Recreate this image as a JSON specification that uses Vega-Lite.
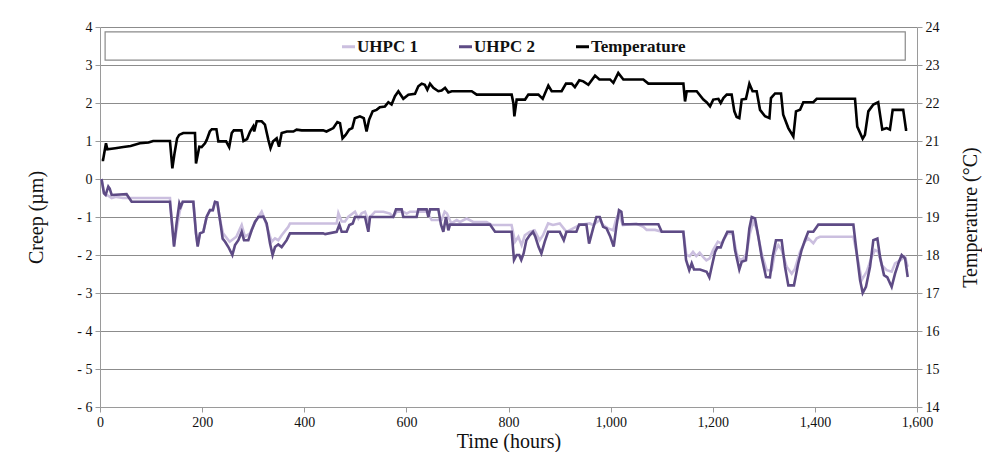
{
  "$schema": "https://vega.github.io/schema/vega-lite/v6.json",
  "width": 817,
  "height": 380,
  "autosize": {"type": "none"},
  "padding": {"left": 100, "top": 27, "right": 65, "bottom": 45},
  "background": "white",
  "config": {
    "view": {"stroke": null},
    "font": "Liberation Serif",
    "axis": {
      "labelFont": "Liberation Serif",
      "labelFontSize": 14,
      "labelColor": "#111111",
      "labelFlush": false,
      "titleFont": "Liberation Serif",
      "titleFontSize": 20,
      "titleFontWeight": "normal",
      "titleColor": "#111111",
      "domainColor": "#9a9a9a",
      "tickColor": "#9a9a9a",
      "tickSize": 5,
      "labelPadding": 3
    }
  },
  "datasets": {
    "frame": [{"x1": 10, "x2": 1577, "y1": 3.13, "y2": 3.87}],
    "creep": [
      {"hours":3,"series":"UHPC 1","value":0},{"hours":7.8,"series":"UHPC 1","value":-0.35},{"hours":11,"series":"UHPC 1","value":-0.42},{"hours":14,"series":"UHPC 1","value":-0.42},{"hours":22.8,"series":"UHPC 1","value":-0.5},{"hours":32,"series":"UHPC 1","value":-0.47},{"hours":45,"series":"UHPC 1","value":-0.5},{"hours":137,"series":"UHPC 1","value":-0.5},{"hours":140.4,"series":"UHPC 1","value":-1.08},{"hours":145,"series":"UHPC 1","value":-1.74},{"hours":151,"series":"UHPC 1","value":-1.25},{"hours":156,"series":"UHPC 1","value":-0.86},{"hours":162,"series":"UHPC 1","value":-0.6},{"hours":182.8,"series":"UHPC 1","value":-0.6},{"hours":188,"series":"UHPC 1","value":-1.43},{"hours":191.3,"series":"UHPC 1","value":-1.74},{"hours":195.8,"series":"UHPC 1","value":-1.43},{"hours":202.4,"series":"UHPC 1","value":-1.39},{"hours":208.9,"series":"UHPC 1","value":-0.99},{"hours":215.4,"series":"UHPC 1","value":-0.82},{"hours":221,"series":"UHPC 1","value":-0.82},{"hours":225.2,"series":"UHPC 1","value":-0.6},{"hours":229.8,"series":"UHPC 1","value":-0.62},{"hours":235,"series":"UHPC 1","value":-1.08},{"hours":241,"series":"UHPC 1","value":-1.43},{"hours":254,"series":"UHPC 1","value":-1.65},{"hours":267,"series":"UHPC 1","value":-1.52},{"hours":277.5,"series":"UHPC 1","value":-1.21},{"hours":283.8,"series":"UHPC 1","value":-1.52},{"hours":293.7,"series":"UHPC 1","value":-1.43},{"hours":303.6,"series":"UHPC 1","value":-1.13},{"hours":316.6,"series":"UHPC 1","value":-0.86},{"hours":323,"series":"UHPC 1","value":-1.08},{"hours":336,"series":"UHPC 1","value":-1.65},{"hours":342.7,"series":"UHPC 1","value":-1.56},{"hours":349.2,"series":"UHPC 1","value":-1.61},{"hours":355.8,"series":"UHPC 1","value":-1.48},{"hours":368.8,"series":"UHPC 1","value":-1.26},{"hours":372,"series":"UHPC 1","value":-1.17},{"hours":463.5,"series":"UHPC 1","value":-1.17},{"hours":466.8,"series":"UHPC 1","value":-0.9},{"hours":473.3,"series":"UHPC 1","value":-1.12},{"hours":479.8,"series":"UHPC 1","value":-1.12},{"hours":486.4,"series":"UHPC 1","value":-0.99},{"hours":499.4,"series":"UHPC 1","value":-0.86},{"hours":506,"series":"UHPC 1","value":-1.04},{"hours":512.4,"series":"UHPC 1","value":-0.9},{"hours":519,"series":"UHPC 1","value":-0.86},{"hours":525.5,"series":"UHPC 1","value":-1.1},{"hours":529,"series":"UHPC 1","value":-1.0},{"hours":538.6,"series":"UHPC 1","value":-0.86},{"hours":555,"series":"UHPC 1","value":-0.86},{"hours":568,"series":"UHPC 1","value":-0.91},{"hours":574.4,"series":"UHPC 1","value":-1.0},{"hours":581,"series":"UHPC 1","value":-0.86},{"hours":594,"series":"UHPC 1","value":-0.86},{"hours":600.5,"series":"UHPC 1","value":-0.91},{"hours":607,"series":"UHPC 1","value":-0.86},{"hours":640,"series":"UHPC 1","value":-0.86},{"hours":649.5,"series":"UHPC 1","value":-1.08},{"hours":669,"series":"UHPC 1","value":-1.08},{"hours":675,"series":"UHPC 1","value":-0.86},{"hours":679.5,"series":"UHPC 1","value":-0.91},{"hours":688,"series":"UHPC 1","value":-1.17},{"hours":698.5,"series":"UHPC 1","value":-1.08},{"hours":705,"series":"UHPC 1","value":-1.13},{"hours":718,"series":"UHPC 1","value":-1.04},{"hours":731,"series":"UHPC 1","value":-1.13},{"hours":757,"series":"UHPC 1","value":-1.13},{"hours":767,"series":"UHPC 1","value":-1.21},{"hours":806,"series":"UHPC 1","value":-1.21},{"hours":812.8,"series":"UHPC 1","value":-1.65},{"hours":819.3,"series":"UHPC 1","value":-1.52},{"hours":825.7,"series":"UHPC 1","value":-1.74},{"hours":832,"series":"UHPC 1","value":-1.48},{"hours":841.4,"series":"UHPC 1","value":-1.39},{"hours":851,"series":"UHPC 1","value":-1.35},{"hours":861,"series":"UHPC 1","value":-1.61},{"hours":867.6,"series":"UHPC 1","value":-1.48},{"hours":877.6,"series":"UHPC 1","value":-1.17},{"hours":887,"series":"UHPC 1","value":-1.21},{"hours":900.4,"series":"UHPC 1","value":-1.17},{"hours":913.5,"series":"UHPC 1","value":-1.39},{"hours":926.5,"series":"UHPC 1","value":-1.3},{"hours":939.6,"series":"UHPC 1","value":-1.21},{"hours":959,"series":"UHPC 1","value":-1.17},{"hours":965.7,"series":"UHPC 1","value":-1.21},{"hours":978.7,"series":"UHPC 1","value":-1.08},{"hours":985.3,"series":"UHPC 1","value":-1.21},{"hours":995,"series":"UHPC 1","value":-1.3},{"hours":1005,"series":"UHPC 1","value":-1.35},{"hours":1011.2,"series":"UHPC 1","value":-1.04},{"hours":1016,"series":"UHPC 1","value":-0.91},{"hours":1024,"series":"UHPC 1","value":-1.21},{"hours":1050,"series":"UHPC 1","value":-1.17},{"hours":1064,"series":"UHPC 1","value":-1.26},{"hours":1070.6,"series":"UHPC 1","value":-1.34},{"hours":1087,"series":"UHPC 1","value":-1.34},{"hours":1100,"series":"UHPC 1","value":-1.39},{"hours":1142.4,"series":"UHPC 1","value":-1.39},{"hours":1148.3,"series":"UHPC 1","value":-2.0},{"hours":1154.8,"series":"UHPC 1","value":-2.03},{"hours":1161.3,"series":"UHPC 1","value":-1.92},{"hours":1167.8,"series":"UHPC 1","value":-2.03},{"hours":1174.4,"series":"UHPC 1","value":-1.94},{"hours":1181,"series":"UHPC 1","value":-2.05},{"hours":1187.5,"series":"UHPC 1","value":-2.14},{"hours":1194,"series":"UHPC 1","value":-2.09},{"hours":1200.5,"series":"UHPC 1","value":-1.87},{"hours":1210,"series":"UHPC 1","value":-1.65},{"hours":1216.9,"series":"UHPC 1","value":-1.7},{"hours":1228.6,"series":"UHPC 1","value":-1.43},{"hours":1239,"series":"UHPC 1","value":-1.43},{"hours":1246.8,"series":"UHPC 1","value":-1.96},{"hours":1253.3,"series":"UHPC 1","value":-2.14},{"hours":1259.8,"series":"UHPC 1","value":-2.09},{"hours":1266.3,"series":"UHPC 1","value":-1.96},{"hours":1272.8,"series":"UHPC 1","value":-1.43},{"hours":1279.4,"series":"UHPC 1","value":-1.12},{"hours":1285.9,"series":"UHPC 1","value":-1.3},{"hours":1295.8,"series":"UHPC 1","value":-1.96},{"hours":1305.6,"series":"UHPC 1","value":-2.4},{"hours":1315.4,"series":"UHPC 1","value":-2.4},{"hours":1321.9,"series":"UHPC 1","value":-1.92},{"hours":1328.5,"series":"UHPC 1","value":-1.74},{"hours":1335,"series":"UHPC 1","value":-1.87},{"hours":1344.8,"series":"UHPC 1","value":-2.31},{"hours":1354.6,"series":"UHPC 1","value":-2.49},{"hours":1361,"series":"UHPC 1","value":-2.36},{"hours":1370.8,"series":"UHPC 1","value":-1.92},{"hours":1380.6,"series":"UHPC 1","value":-1.65},{"hours":1387,"series":"UHPC 1","value":-1.56},{"hours":1397,"series":"UHPC 1","value":-1.69},{"hours":1403.6,"series":"UHPC 1","value":-1.56},{"hours":1410,"series":"UHPC 1","value":-1.52},{"hours":1475.4,"series":"UHPC 1","value":-1.52},{"hours":1482,"series":"UHPC 1","value":-1.96},{"hours":1491.7,"series":"UHPC 1","value":-2.66},{"hours":1501.5,"series":"UHPC 1","value":-2.44},{"hours":1511.3,"series":"UHPC 1","value":-2.05},{"hours":1517.8,"series":"UHPC 1","value":-1.87},{"hours":1524.4,"series":"UHPC 1","value":-1.92},{"hours":1530.9,"series":"UHPC 1","value":-2.27},{"hours":1540.7,"series":"UHPC 1","value":-2.4},{"hours":1550.4,"series":"UHPC 1","value":-2.44},{"hours":1557,"series":"UHPC 1","value":-2.22},{"hours":1566.8,"series":"UHPC 1","value":-2.14},{"hours":1576.6,"series":"UHPC 1","value":-2.05},{"hours":1581.8,"series":"UHPC 1","value":-2.31},
      {"hours":3,"series":"UHPC 2","value":0},{"hours":7.8,"series":"UHPC 2","value":-0.38},{"hours":11,"series":"UHPC 2","value":-0.42},{"hours":16.3,"series":"UHPC 2","value":-0.2},{"hours":19,"series":"UHPC 2","value":-0.25},{"hours":22.8,"series":"UHPC 2","value":-0.42},{"hours":52,"series":"UHPC 2","value":-0.4},{"hours":62,"series":"UHPC 2","value":-0.6},{"hours":137,"series":"UHPC 2","value":-0.6},{"hours":140.4,"series":"UHPC 2","value":-1.09},{"hours":145,"series":"UHPC 2","value":-1.78},{"hours":150,"series":"UHPC 2","value":-1.16},{"hours":155.4,"series":"UHPC 2","value":-0.64},{"hours":158,"series":"UHPC 2","value":-0.73},{"hours":162,"series":"UHPC 2","value":-0.6},{"hours":182.8,"series":"UHPC 2","value":-0.6},{"hours":188,"series":"UHPC 2","value":-1.43},{"hours":191.3,"series":"UHPC 2","value":-1.78},{"hours":195.8,"series":"UHPC 2","value":-1.43},{"hours":202.4,"series":"UHPC 2","value":-1.39},{"hours":208.9,"series":"UHPC 2","value":-0.99},{"hours":215.4,"series":"UHPC 2","value":-0.82},{"hours":221,"series":"UHPC 2","value":-0.82},{"hours":225.2,"series":"UHPC 2","value":-0.6},{"hours":229.8,"series":"UHPC 2","value":-0.62},{"hours":235,"series":"UHPC 2","value":-1.08},{"hours":240.2,"series":"UHPC 2","value":-1.57},{"hours":245,"series":"UHPC 2","value":-1.65},{"hours":251.4,"series":"UHPC 2","value":-1.79},{"hours":259.2,"series":"UHPC 2","value":-2.0},{"hours":264.4,"series":"UHPC 2","value":-1.74},{"hours":271,"series":"UHPC 2","value":-1.61},{"hours":277.5,"series":"UHPC 2","value":-1.39},{"hours":282,"series":"UHPC 2","value":-1.61},{"hours":290.5,"series":"UHPC 2","value":-1.61},{"hours":297,"series":"UHPC 2","value":-1.35},{"hours":303.6,"series":"UHPC 2","value":-1.13},{"hours":310,"series":"UHPC 2","value":-1.0},{"hours":319.9,"series":"UHPC 2","value":-0.99},{"hours":326.4,"series":"UHPC 2","value":-1.17},{"hours":333,"series":"UHPC 2","value":-1.7},{"hours":338,"series":"UHPC 2","value":-2.0},{"hours":342.7,"series":"UHPC 2","value":-1.79},{"hours":349.2,"series":"UHPC 2","value":-1.72},{"hours":355.8,"series":"UHPC 2","value":-1.79},{"hours":365.6,"series":"UHPC 2","value":-1.61},{"hours":372,"series":"UHPC 2","value":-1.43},{"hours":437,"series":"UHPC 2","value":-1.43},{"hours":441,"series":"UHPC 2","value":-1.45},{"hours":463.5,"series":"UHPC 2","value":-1.39},{"hours":468.8,"series":"UHPC 2","value":-1.2},{"hours":473.3,"series":"UHPC 2","value":-1.39},{"hours":483,"series":"UHPC 2","value":-1.39},{"hours":488.3,"series":"UHPC 2","value":-1.21},{"hours":495,"series":"UHPC 2","value":-1.17},{"hours":499.4,"series":"UHPC 2","value":-1.0},{"hours":519,"series":"UHPC 2","value":-1.0},{"hours":525.5,"series":"UHPC 2","value":-1.39},{"hours":528.8,"series":"UHPC 2","value":-1.0},{"hours":574.4,"series":"UHPC 2","value":-1.0},{"hours":579.7,"series":"UHPC 2","value":-0.8},{"hours":590.8,"series":"UHPC 2","value":-0.8},{"hours":594,"series":"UHPC 2","value":-1.0},{"hours":620,"series":"UHPC 2","value":-1.0},{"hours":623.4,"series":"UHPC 2","value":-0.8},{"hours":639.7,"series":"UHPC 2","value":-0.8},{"hours":643,"series":"UHPC 2","value":-1.0},{"hours":646.3,"series":"UHPC 2","value":-0.8},{"hours":662.6,"series":"UHPC 2","value":-0.8},{"hours":667.8,"series":"UHPC 2","value":-1.2},{"hours":672.4,"series":"UHPC 2","value":-1.39},{"hours":677.6,"series":"UHPC 2","value":-1.0},{"hours":682.2,"series":"UHPC 2","value":-1.35},{"hours":685.4,"series":"UHPC 2","value":-1.2},{"hours":692,"series":"UHPC 2","value":-1.2},{"hours":763.8,"series":"UHPC 2","value":-1.2},{"hours":773.6,"series":"UHPC 2","value":-1.39},{"hours":806.2,"series":"UHPC 2","value":-1.39},{"hours":810.8,"series":"UHPC 2","value":-2.13},{"hours":816,"series":"UHPC 2","value":-2.0},{"hours":821,"series":"UHPC 2","value":-2.0},{"hours":825,"series":"UHPC 2","value":-2.13},{"hours":829.6,"series":"UHPC 2","value":-1.96},{"hours":835,"series":"UHPC 2","value":-1.61},{"hours":841.4,"series":"UHPC 2","value":-1.48},{"hours":848,"series":"UHPC 2","value":-1.39},{"hours":852.6,"series":"UHPC 2","value":-1.52},{"hours":859,"series":"UHPC 2","value":-1.79},{"hours":864.4,"series":"UHPC 2","value":-1.96},{"hours":871,"series":"UHPC 2","value":-1.65},{"hours":877.6,"series":"UHPC 2","value":-1.39},{"hours":900.4,"series":"UHPC 2","value":-1.39},{"hours":908.3,"series":"UHPC 2","value":-1.61},{"hours":913.5,"series":"UHPC 2","value":-1.39},{"hours":933,"series":"UHPC 2","value":-1.39},{"hours":938.3,"series":"UHPC 2","value":-1.2},{"hours":952.6,"series":"UHPC 2","value":-1.2},{"hours":957.8,"series":"UHPC 2","value":-1.7},{"hours":965.7,"series":"UHPC 2","value":-1.3},{"hours":972.2,"series":"UHPC 2","value":-1.0},{"hours":978.7,"series":"UHPC 2","value":-1.0},{"hours":985.3,"series":"UHPC 2","value":-1.26},{"hours":992,"series":"UHPC 2","value":-1.3},{"hours":999.4,"series":"UHPC 2","value":-1.52},{"hours":1006,"series":"UHPC 2","value":-1.78},{"hours":1011.2,"series":"UHPC 2","value":-1.26},{"hours":1016.4,"series":"UHPC 2","value":-0.82},{"hours":1021,"series":"UHPC 2","value":-0.86},{"hours":1024.2,"series":"UHPC 2","value":-1.19},{"hours":1093.5,"series":"UHPC 2","value":-1.19},{"hours":1100,"series":"UHPC 2","value":-1.39},{"hours":1142.4,"series":"UHPC 2","value":-1.39},{"hours":1147.7,"series":"UHPC 2","value":-2.13},{"hours":1154,"series":"UHPC 2","value":-2.4},{"hours":1158.8,"series":"UHPC 2","value":-2.22},{"hours":1163.3,"series":"UHPC 2","value":-2.38},{"hours":1175,"series":"UHPC 2","value":-2.38},{"hours":1188,"series":"UHPC 2","value":-2.44},{"hours":1193.4,"series":"UHPC 2","value":-2.59},{"hours":1198,"series":"UHPC 2","value":-2.31},{"hours":1204.5,"series":"UHPC 2","value":-1.92},{"hours":1209,"series":"UHPC 2","value":-1.8},{"hours":1215.6,"series":"UHPC 2","value":-1.8},{"hours":1220.8,"series":"UHPC 2","value":-1.61},{"hours":1228.6,"series":"UHPC 2","value":-1.39},{"hours":1239,"series":"UHPC 2","value":-1.39},{"hours":1243.6,"series":"UHPC 2","value":-1.87},{"hours":1252,"series":"UHPC 2","value":-2.38},{"hours":1256.7,"series":"UHPC 2","value":-2.18},{"hours":1265,"series":"UHPC 2","value":-2.14},{"hours":1271.7,"series":"UHPC 2","value":-1.3},{"hours":1276.3,"series":"UHPC 2","value":-1.0},{"hours":1282.8,"series":"UHPC 2","value":-1.04},{"hours":1289.3,"series":"UHPC 2","value":-1.52},{"hours":1295.8,"series":"UHPC 2","value":-2.05},{"hours":1304.3,"series":"UHPC 2","value":-2.58},{"hours":1312,"series":"UHPC 2","value":-2.59},{"hours":1317.3,"series":"UHPC 2","value":-2.05},{"hours":1323.8,"series":"UHPC 2","value":-1.61},{"hours":1334.9,"series":"UHPC 2","value":-1.61},{"hours":1341.5,"series":"UHPC 2","value":-2.31},{"hours":1348,"series":"UHPC 2","value":-2.8},{"hours":1359,"series":"UHPC 2","value":-2.8},{"hours":1367.5,"series":"UHPC 2","value":-2.22},{"hours":1374,"series":"UHPC 2","value":-1.87},{"hours":1380.6,"series":"UHPC 2","value":-1.61},{"hours":1387,"series":"UHPC 2","value":-1.39},{"hours":1397,"series":"UHPC 2","value":-1.39},{"hours":1406.8,"series":"UHPC 2","value":-1.2},{"hours":1475.4,"series":"UHPC 2","value":-1.2},{"hours":1482,"series":"UHPC 2","value":-1.96},{"hours":1488.5,"series":"UHPC 2","value":-2.66},{"hours":1493.7,"series":"UHPC 2","value":-3.0},{"hours":1500,"series":"UHPC 2","value":-2.84},{"hours":1508,"series":"UHPC 2","value":-2.31},{"hours":1514.5,"series":"UHPC 2","value":-1.61},{"hours":1522.4,"series":"UHPC 2","value":-1.57},{"hours":1527.6,"series":"UHPC 2","value":-2.05},{"hours":1535.4,"series":"UHPC 2","value":-2.53},{"hours":1542,"series":"UHPC 2","value":-2.59},{"hours":1550.4,"series":"UHPC 2","value":-2.84},{"hours":1557,"series":"UHPC 2","value":-2.49},{"hours":1563.5,"series":"UHPC 2","value":-2.22},{"hours":1570,"series":"UHPC 2","value":-2.0},{"hours":1576.6,"series":"UHPC 2","value":-2.09},{"hours":1581.8,"series":"UHPC 2","value":-2.58}
    ],
    "temp": [
      {"hours":3.3,"series":"Temperature","value":20.5},{"hours":6,"series":"Temperature","value":20.5},{"hours":11.7,"series":"Temperature","value":20.94},{"hours":14.4,"series":"Temperature","value":20.78},{"hours":30,"series":"Temperature","value":20.81},{"hours":45.7,"series":"Temperature","value":20.84},{"hours":60,"series":"Temperature","value":20.87},{"hours":78,"series":"Temperature","value":20.94},{"hours":95,"series":"Temperature","value":20.96},{"hours":104,"series":"Temperature","value":21.0},{"hours":137,"series":"Temperature","value":21.0},{"hours":141.7,"series":"Temperature","value":20.28},{"hours":146,"series":"Temperature","value":20.68},{"hours":151,"series":"Temperature","value":21.07},{"hours":155,"series":"Temperature","value":21.16},{"hours":163,"series":"Temperature","value":21.21},{"hours":186,"series":"Temperature","value":21.21},{"hours":188,"series":"Temperature","value":20.41},{"hours":194.5,"series":"Temperature","value":20.85},{"hours":199,"series":"Temperature","value":20.84},{"hours":205.6,"series":"Temperature","value":20.94},{"hours":209,"series":"Temperature","value":21.03},{"hours":215,"series":"Temperature","value":21.25},{"hours":219,"series":"Temperature","value":21.31},{"hours":228,"series":"Temperature","value":21.31},{"hours":231.8,"series":"Temperature","value":20.99},{"hours":247,"series":"Temperature","value":20.99},{"hours":253,"series":"Temperature","value":20.84},{"hours":258,"series":"Temperature","value":21.21},{"hours":262,"series":"Temperature","value":21.28},{"hours":277,"series":"Temperature","value":21.28},{"hours":281,"series":"Temperature","value":21.0},{"hours":288,"series":"Temperature","value":21.05},{"hours":294,"series":"Temperature","value":21.25},{"hours":300,"series":"Temperature","value":21.38},{"hours":302,"series":"Temperature","value":21.25},{"hours":307,"series":"Temperature","value":21.52},{"hours":316.6,"series":"Temperature","value":21.52},{"hours":323,"series":"Temperature","value":21.43},{"hours":329.7,"series":"Temperature","value":21.03},{"hours":334,"series":"Temperature","value":20.81},{"hours":339,"series":"Temperature","value":20.99},{"hours":346,"series":"Temperature","value":21.07},{"hours":350.6,"series":"Temperature","value":20.85},{"hours":355.8,"series":"Temperature","value":21.21},{"hours":366,"series":"Temperature","value":21.25},{"hours":378.7,"series":"Temperature","value":21.25},{"hours":385,"series":"Temperature","value":21.3},{"hours":395,"series":"Temperature","value":21.28},{"hours":437,"series":"Temperature","value":21.28},{"hours":443.5,"series":"Temperature","value":21.25},{"hours":457,"series":"Temperature","value":21.34},{"hours":464.8,"series":"Temperature","value":21.5},{"hours":470,"series":"Temperature","value":21.47},{"hours":475,"series":"Temperature","value":21.07},{"hours":481,"series":"Temperature","value":21.16},{"hours":488,"series":"Temperature","value":21.3},{"hours":494,"series":"Temperature","value":21.34},{"hours":499,"series":"Temperature","value":21.6},{"hours":509,"series":"Temperature","value":21.65},{"hours":516.6,"series":"Temperature","value":21.6},{"hours":522,"series":"Temperature","value":21.25},{"hours":527,"series":"Temperature","value":21.56},{"hours":534,"series":"Temperature","value":21.78},{"hours":541.6,"series":"Temperature","value":21.82},{"hours":548,"series":"Temperature","value":21.89},{"hours":558,"series":"Temperature","value":21.91},{"hours":564.7,"series":"Temperature","value":22.02},{"hours":571,"series":"Temperature","value":21.96},{"hours":577.7,"series":"Temperature","value":22.18},{"hours":584.3,"series":"Temperature","value":22.31},{"hours":594,"series":"Temperature","value":22.11},{"hours":603.9,"series":"Temperature","value":22.22},{"hours":616.9,"series":"Temperature","value":22.24},{"hours":623.4,"series":"Temperature","value":22.44},{"hours":630,"series":"Temperature","value":22.51},{"hours":636,"series":"Temperature","value":22.48},{"hours":641,"series":"Temperature","value":22.35},{"hours":646.3,"series":"Temperature","value":22.51},{"hours":652.8,"series":"Temperature","value":22.4},{"hours":662.6,"series":"Temperature","value":22.31},{"hours":669,"series":"Temperature","value":22.33},{"hours":675.7,"series":"Temperature","value":22.4},{"hours":682.2,"series":"Temperature","value":22.28},{"hours":688.8,"series":"Temperature","value":22.31},{"hours":728,"series":"Temperature","value":22.31},{"hours":737.7,"series":"Temperature","value":22.22},{"hours":806.2,"series":"Temperature","value":22.22},{"hours":809.5,"series":"Temperature","value":22.0},{"hours":811.5,"series":"Temperature","value":21.65},{"hours":816,"series":"Temperature","value":22.09},{"hours":832.4,"series":"Temperature","value":22.09},{"hours":838.9,"series":"Temperature","value":22.22},{"hours":858.5,"series":"Temperature","value":22.22},{"hours":867,"series":"Temperature","value":22.11},{"hours":878,"series":"Temperature","value":22.46},{"hours":884.6,"series":"Temperature","value":22.31},{"hours":904,"series":"Temperature","value":22.31},{"hours":912.6,"series":"Temperature","value":22.51},{"hours":923.7,"series":"Temperature","value":22.51},{"hours":930,"series":"Temperature","value":22.42},{"hours":938.7,"series":"Temperature","value":22.6},{"hours":946.5,"series":"Temperature","value":22.57},{"hours":956.4,"series":"Temperature","value":22.48},{"hours":969.5,"series":"Temperature","value":22.72},{"hours":978,"series":"Temperature","value":22.62},{"hours":998.8,"series":"Temperature","value":22.62},{"hours":1005.4,"series":"Temperature","value":22.53},{"hours":1015,"series":"Temperature","value":22.79},{"hours":1024.9,"series":"Temperature","value":22.62},{"hours":1064,"series":"Temperature","value":22.62},{"hours":1073.9,"series":"Temperature","value":22.51},{"hours":1142.5,"series":"Temperature","value":22.51},{"hours":1145.7,"series":"Temperature","value":22.04},{"hours":1149,"series":"Temperature","value":22.31},{"hours":1168.6,"series":"Temperature","value":22.31},{"hours":1181.6,"series":"Temperature","value":22.09},{"hours":1188,"series":"Temperature","value":22.02},{"hours":1194.7,"series":"Temperature","value":21.91},{"hours":1201,"series":"Temperature","value":22.09},{"hours":1211,"series":"Temperature","value":22.11},{"hours":1215.6,"series":"Temperature","value":22.0},{"hours":1220.8,"series":"Temperature","value":22.13},{"hours":1227.4,"series":"Temperature","value":22.22},{"hours":1237,"series":"Temperature","value":22.22},{"hours":1242.3,"series":"Temperature","value":21.78},{"hours":1246.8,"series":"Temperature","value":21.63},{"hours":1252,"series":"Temperature","value":21.6},{"hours":1256.7,"series":"Temperature","value":22.09},{"hours":1265,"series":"Temperature","value":22.11},{"hours":1271.7,"series":"Temperature","value":22.51},{"hours":1278,"series":"Temperature","value":22.31},{"hours":1286,"series":"Temperature","value":22.31},{"hours":1292.6,"series":"Temperature","value":21.82},{"hours":1302.4,"series":"Temperature","value":21.65},{"hours":1311,"series":"Temperature","value":21.6},{"hours":1314,"series":"Temperature","value":22.13},{"hours":1322,"series":"Temperature","value":22.25},{"hours":1333.7,"series":"Temperature","value":22.25},{"hours":1338,"series":"Temperature","value":21.69},{"hours":1348,"series":"Temperature","value":21.34},{"hours":1357.8,"series":"Temperature","value":21.12},{"hours":1363,"series":"Temperature","value":21.78},{"hours":1371,"series":"Temperature","value":21.82},{"hours":1377.4,"series":"Temperature","value":22.02},{"hours":1397,"series":"Temperature","value":22.02},{"hours":1403.6,"series":"Temperature","value":22.11},{"hours":1478.6,"series":"Temperature","value":22.11},{"hours":1483,"series":"Temperature","value":21.38},{"hours":1493.6,"series":"Temperature","value":21.06},{"hours":1498,"series":"Temperature","value":21.16},{"hours":1504.7,"series":"Temperature","value":21.78},{"hours":1514.5,"series":"Temperature","value":21.96},{"hours":1524,"series":"Temperature","value":22.02},{"hours":1532,"series":"Temperature","value":21.3},{"hours":1540.7,"series":"Temperature","value":21.34},{"hours":1547,"series":"Temperature","value":21.3},{"hours":1552.4,"series":"Temperature","value":21.82},{"hours":1573,"series":"Temperature","value":21.82},{"hours":1578.5,"series":"Temperature","value":21.3},{"hours":1581,"series":"Temperature","value":21.3}
    ]
  },
  "layer": [
    {
      "layer": [
        {
          "data": {"name": "frame"},
          "mark": {"type": "rect", "fill": "white", "stroke": "#8a8a8a", "strokeWidth": 1.2},
          "encoding": {
            "x": {"field": "x1", "type": "quantitative", "scale": {"domain": [0, 1600], "nice": false},
              "axis": {"values": [0,200,400,600,800,1000,1200,1400,1600], "labelExpr": "format(datum.value, ',')", "grid": false, "title": "Time (hours)", "titlePadding": 2}},
            "x2": {"field": "x2"},
            "y": {"field": "y1", "type": "quantitative", "scale": {"domain": [-6, 4], "nice": false},
              "axis": {"values": [-6,-5,-4,-3,-2,-1,0,1,2,3,4], "grid": true, "gridColor": "#8c8c8c", "gridWidth": 1, "title": "Creep (µm)", "titlePadding": 30, "labelExpr": "datum.value < 0 ? '- ' + (-datum.value) : datum.label"}},
            "y2": {"field": "y2"}
          }
        },
        {
          "data": {"name": "creep"},
          "mark": {"type": "line", "strokeWidth": 2.6},
          "encoding": {
            "x": {"field": "hours", "type": "quantitative", "scale": {"domain": [0, 1600], "nice": false},
              "axis": {"values": [0,200,400,600,800,1000,1200,1400,1600], "labelExpr": "format(datum.value, ',')", "grid": false, "title": "Time (hours)", "titlePadding": 2}},
            "y": {"field": "value", "type": "quantitative", "scale": {"domain": [-6, 4], "nice": false},
              "axis": {"values": [-6,-5,-4,-3,-2,-1,0,1,2,3,4], "grid": true, "gridColor": "#8c8c8c", "gridWidth": 1, "title": "Creep (µm)", "titlePadding": 30, "labelExpr": "datum.value < 0 ? '- ' + (-datum.value) : datum.label"}},
            "color": {"field": "series", "type": "nominal",
              "scale": {"domain": ["UHPC 1", "UHPC 2", "Temperature"], "range": ["#cbbfdf", "#5e4b85", "#000000"]},
              "legend": {"orient": "none", "legendX": 240, "legendY": 11, "direction": "horizontal", "title": null,
                "symbolType": "stroke", "symbolSize": 169, "symbolStrokeWidth": 3,
                "labelFont": "Liberation Serif", "labelFontWeight": "bold", "labelFontSize": 17, "labelColor": "#111111",
                "labelOffset": 0, "columnPadding": 35, "padding": 0}}
          }
        }
      ]
    },
    {
      "data": {"name": "temp"},
      "mark": {"type": "line", "strokeWidth": 2.6},
      "encoding": {
        "x": {"field": "hours", "type": "quantitative", "scale": {"domain": [0, 1600], "nice": false},
          "axis": {"values": [0,200,400,600,800,1000,1200,1400,1600], "labelExpr": "format(datum.value, ',')", "grid": false, "title": "Time (hours)", "titlePadding": 2}},
        "y": {"field": "value", "type": "quantitative", "scale": {"domain": [14, 24], "nice": false},
          "axis": {"orient": "right", "values": [14,15,16,17,18,19,20,21,22,23,24], "grid": false, "title": "Temperature (°C)", "titleAngle": -90, "titlePadding": 41}},
        "color": {"field": "series", "type": "nominal",
          "scale": {"domain": ["UHPC 1", "UHPC 2", "Temperature"], "range": ["#cbbfdf", "#5e4b85", "#000000"]},
          "legend": {"orient": "none", "legendX": 240, "legendY": 11, "direction": "horizontal", "title": null,
            "symbolType": "stroke", "symbolSize": 169, "symbolStrokeWidth": 3,
            "labelFont": "Liberation Serif", "labelFontWeight": "bold", "labelFontSize": 17, "labelColor": "#111111",
            "labelOffset": 0, "columnPadding": 35, "padding": 0}}
      }
    }
  ],
  "resolve": {"scale": {"y": "independent"}}
}
